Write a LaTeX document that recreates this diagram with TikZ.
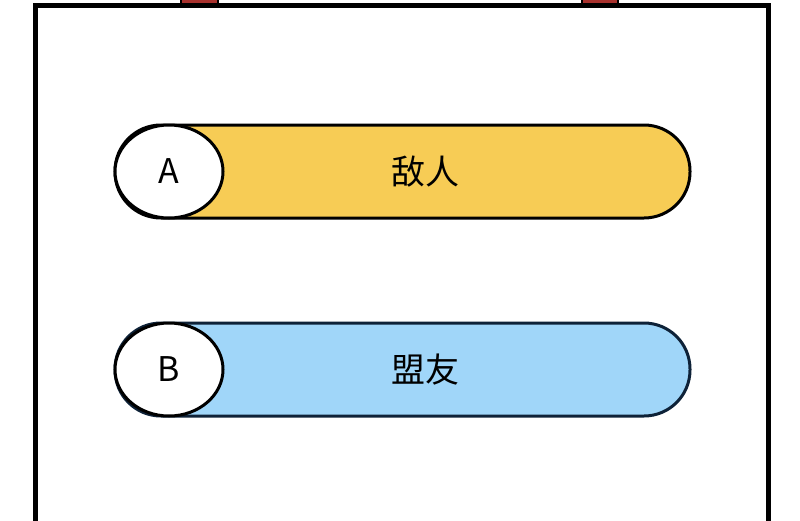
\documentclass[tikz,border=0pt]{standalone}
\usepackage{fontspec}
\setmainfont{Noto Sans CJK SC}
\usetikzlibrary{shapes.geometric}
\definecolor{barYellow}{HTML}{F7CC55}
\definecolor{barBlue}{HTML}{A0D6F9}
\definecolor{barNavy}{HTML}{0E2238}
\definecolor{tabRed}{HTML}{A8322E}
\begin{document}
\begin{tikzpicture}[x=1pt, y=-1pt, line width = 3pt,
                      bar/.style = {draw, rounded corners = 46pt},
                      badge/.style = {ellipse, draw, fill = white, minimum width = 108pt,
                                      minimum height = 93pt, inner sep = 0pt, font = \fontsize{34}{40}\selectfont},
                      caption/.style = {font = \fontsize{34}{40}\selectfont}]
    \useasboundingbox (0, 0) rectangle (800, 520);
    % frame and tabs
    \fill [tabRed, draw = black, line width = 1.5pt] (181, -3) rectangle (218, 4);
    \fill [tabRed, draw = black, line width = 1.5pt] (582, -3) rectangle (618, 4);
    \draw [line width = 5pt] (35, 530) -- (35, 5) -- (768, 5) -- (768, 530);

    % enemy bar
    \draw [bar, fill = barYellow, draw = black] (115, 125) rectangle (690, 218);
    \node [badge] (badgeA) at (169, 171.5) {A};
    \node [caption] (textA) at (425, 171.5) {敌人};

    % ally bar
    \draw [bar, fill = barBlue, draw = barNavy] (115, 323) rectangle (690, 416);
    \node [badge] (badgeB) at (169, 369.5) {B};
    \node [caption] (textB) at (425, 369.5) {盟友};
\end{tikzpicture}
\end{document}
